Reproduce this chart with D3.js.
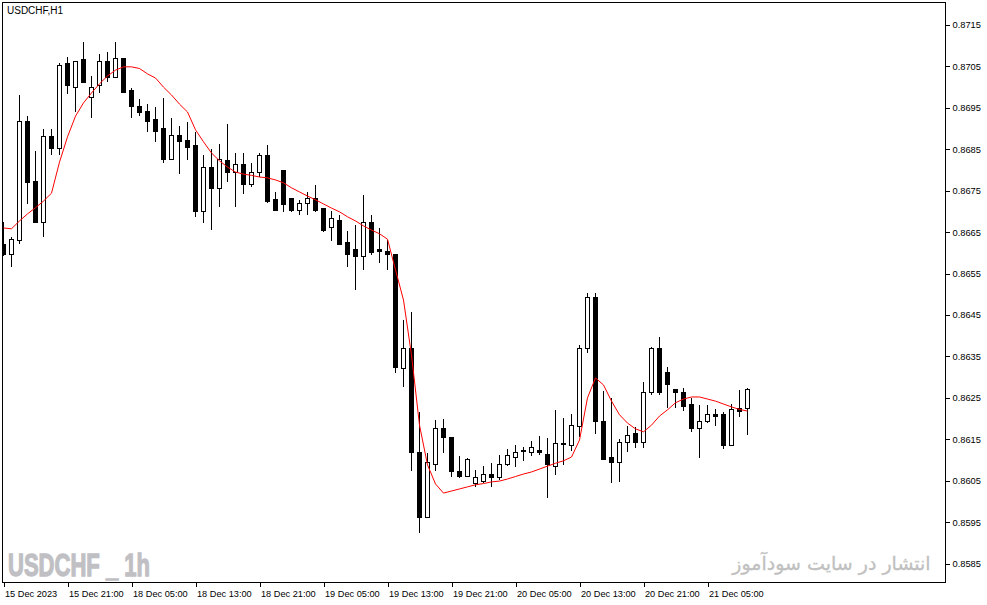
<!DOCTYPE html>
<html>
<head>
<meta charset="utf-8">
<script src="https://cdn.jsdelivr.net/npm/d3@7"></script>
<style>
  html, body { margin: 0; padding: 0; background: #fff; }
  svg { display: block; }
</style>
</head>
<body>
<div id="chart"></div>
<script>
// USDCHF H1 candles
const symbolTitle = 'USDCHF,H1';

const opens = [
  0.86619, 0.86597, 0.86629, 0.86918, 0.86771, 0.86674, 0.86880, 0.86853, 0.87056, 0.86998,
  0.87066, 0.86974, 0.87003, 0.87063, 0.87024, 0.87068, 0.86991, 0.86954, 0.86940, 0.86921,
  0.86899, 0.86826, 0.86884, 0.86870, 0.86858, 0.86699, 0.86807, 0.86756, 0.86824, 0.86795,
  0.86814, 0.86766, 0.86795, 0.86834, 0.86728, 0.86798, 0.86730, 0.86703, 0.86718, 0.86730,
  0.86706, 0.86660, 0.86679, 0.86624, 0.86607, 0.86590, 0.86674, 0.86607, 0.86602, 0.86595,
  0.86320, 0.86368, 0.86119, 0.85960, 0.86090, 0.86177, 0.86155, 0.86073, 0.86061, 0.86044,
  0.86047, 0.86064, 0.86057, 0.86090, 0.86107, 0.86122, 0.86119, 0.86124, 0.86114, 0.86085,
  0.86139, 0.86134, 0.86180, 0.86370, 0.86491, 0.86194, 0.86105, 0.86095, 0.86141, 0.86163,
  0.86143, 0.86262, 0.86370, 0.86310, 0.86271, 0.86262, 0.86233, 0.86177, 0.86194, 0.86209,
  0.86209, 0.86136, 0.86223, 0.86225
];

const highs = [
  0.86674, 0.86638, 0.86981, 0.86930, 0.86846, 0.86899, 0.86899, 0.87058, 0.87073, 0.87063,
  0.87109, 0.87027, 0.87080, 0.87085, 0.87109, 0.87068, 0.86998, 0.86971, 0.86959, 0.86952,
  0.86974, 0.86926, 0.86906, 0.86916, 0.86892, 0.86836, 0.86851, 0.86863, 0.86911, 0.86841,
  0.86841, 0.86817, 0.86841, 0.86860, 0.86747, 0.86800, 0.86730, 0.86728, 0.86747, 0.86764,
  0.86706, 0.86701, 0.86691, 0.86653, 0.86667, 0.86740, 0.86691, 0.86660, 0.86631, 0.86595,
  0.86438, 0.86457, 0.86216, 0.86117, 0.86197, 0.86199, 0.86155, 0.86110, 0.86105, 0.86076,
  0.86085, 0.86093, 0.86112, 0.86127, 0.86136, 0.86131, 0.86146, 0.86158, 0.86153, 0.86221,
  0.86201, 0.86211, 0.86378, 0.86503, 0.86503, 0.86267, 0.86250, 0.86151, 0.86182, 0.86180,
  0.86288, 0.86373, 0.86397, 0.86324, 0.86271, 0.86274, 0.86250, 0.86233, 0.86233, 0.86223,
  0.86216, 0.86235, 0.86269, 0.86274
];

const lows = [
  0.86592, 0.86566, 0.86621, 0.86718, 0.86672, 0.86638, 0.86836, 0.86836, 0.86983, 0.86940,
  0.87012, 0.86926, 0.86986, 0.87012, 0.87024, 0.86986, 0.86926, 0.86930, 0.86892, 0.86868,
  0.86817, 0.86824, 0.86790, 0.86824, 0.86686, 0.86672, 0.86655, 0.86711, 0.86771, 0.86711,
  0.86742, 0.86759, 0.86783, 0.86720, 0.86701, 0.86699, 0.86699, 0.86691, 0.86691, 0.86699,
  0.86650, 0.86629, 0.86621, 0.86566, 0.86510, 0.86559, 0.86595, 0.86575, 0.86559, 0.86310,
  0.86276, 0.86073, 0.85924, 0.85960, 0.86073, 0.86117, 0.86059, 0.86057, 0.86059, 0.86035,
  0.86044, 0.86035, 0.86052, 0.86085, 0.86083, 0.86098, 0.86110, 0.86112, 0.86008, 0.86064,
  0.86088, 0.86122, 0.86155, 0.86358, 0.86163, 0.86100, 0.86044, 0.86047, 0.86119, 0.86129,
  0.86129, 0.86257, 0.86257, 0.86225, 0.86225, 0.86218, 0.86168, 0.86105, 0.86189, 0.86182,
  0.86127, 0.86134, 0.86204, 0.86160
];

const closes = [
  0.86597, 0.86631, 0.86918, 0.86769, 0.86674, 0.86880, 0.86853, 0.87053, 0.87003, 0.87063,
  0.87012, 0.87000, 0.87063, 0.87024, 0.87068, 0.86988, 0.86954, 0.86938, 0.86916, 0.86892,
  0.86826, 0.86884, 0.86868, 0.86855, 0.86699, 0.86805, 0.86756, 0.86826, 0.86795, 0.86814,
  0.86766, 0.86793, 0.86834, 0.86723, 0.86703, 0.86716, 0.86703, 0.86718, 0.86730, 0.86703,
  0.86655, 0.86682, 0.86621, 0.86597, 0.86590, 0.86674, 0.86600, 0.86602, 0.86595, 0.86322,
  0.86368, 0.86119, 0.85960, 0.86093, 0.86177, 0.86153, 0.86071, 0.86059, 0.86100, 0.86057,
  0.86064, 0.86057, 0.86088, 0.86110, 0.86119, 0.86120, 0.86129, 0.86117, 0.86088, 0.86139,
  0.86138, 0.86182, 0.86368, 0.86491, 0.86192, 0.86100, 0.86095, 0.86143, 0.86160, 0.86143,
  0.86262, 0.86370, 0.86262, 0.86283, 0.86262, 0.86230, 0.86177, 0.86194, 0.86209, 0.86206,
  0.86134, 0.86221, 0.86216, 0.86271
];

// red smoothing line
const maLine = [
  0.86660, 0.86658, 0.86677, 0.86694, 0.86709, 0.86725, 0.86744, 0.86819, 0.86880, 0.86930,
  0.86962, 0.86986, 0.87008, 0.87027, 0.87041, 0.87049, 0.87049, 0.87045, 0.87032, 0.87022,
  0.87000, 0.86981, 0.86959, 0.86940, 0.86897, 0.86868, 0.86841, 0.86822, 0.86807, 0.86795,
  0.86790, 0.86787, 0.86783, 0.86781, 0.86776, 0.86769, 0.86757, 0.86747, 0.86737, 0.86728,
  0.86718, 0.86708, 0.86699, 0.86687, 0.86677, 0.86665, 0.86655, 0.86646, 0.86633, 0.86559,
  0.86486, 0.86353, 0.86184, 0.86088, 0.86042, 0.86020, 0.86025, 0.86030, 0.86035, 0.86040,
  0.86043, 0.86047, 0.86049, 0.86054, 0.86060, 0.86066, 0.86071, 0.86078, 0.86085, 0.86092,
  0.86098, 0.86107, 0.86148, 0.86250, 0.86298, 0.86281, 0.86242, 0.86209, 0.86189, 0.86175,
  0.86168, 0.86184, 0.86206, 0.86221, 0.86238, 0.86247, 0.86252, 0.86252, 0.86247, 0.86242,
  0.86235, 0.86228, 0.86222, 0.86218
];

const timeLabels = [
  '15 Dec 2023', '15 Dec 21:00', '18 Dec 05:00', '18 Dec 13:00', '18 Dec 21:00', '19 Dec 05:00',
  '19 Dec 13:00', '19 Dec 21:00', '20 Dec 05:00', '20 Dec 13:00', '20 Dec 21:00', '21 Dec 05:00'
];
const timeLabelBars = [0, 8, 16, 24, 32, 40, 48, 56, 64, 72, 80, 88];

const priceTicks = [
  0.8585, 0.8595, 0.8605, 0.8615, 0.8625, 0.8635, 0.8645,
  0.8655, 0.8665, 0.8675, 0.8685, 0.8695, 0.8705, 0.8715
];

const width = 987;
const height = 605;
const frame = { left: 2.5, top: 2.5, right: 945.5, bottom: 582.5 };
const axisFont = '"Liberation Sans", Arial, sans-serif';

const bars = opens.map((o, i) => ({
  i, open: o, high: highs[i], low: lows[i], close: closes[i],
}));

const x = d3.scaleLinear().domain([0, 93]).range([3.5, 747.5]);
const y = d3.scaleLinear().domain([0.8585, 0.8715]).range([563.5, 25]);

const svg = d3
  .select('#chart')
  .append('svg')
  .attr('width', width)
  .attr('height', height);

svg.append('rect')
  .attr('width', width)
  .attr('height', height)
  .attr('fill', '#fff');

svg.append('clipPath')
  .attr('id', 'plot-clip')
  .append('rect')
  .attr('x', frame.left)
  .attr('y', frame.top)
  .attr('width', frame.right - frame.left)
  .attr('height', frame.bottom - frame.top);

// watermarks (behind the candles)
svg.append('text')
  .attr('x', 8)
  .attr('y', 576)
  .attr('font-family', '"Liberation Sans", Arial, sans-serif')
  .attr('font-weight', 'bold')
  .attr('font-size', 31)
  .attr('textLength', 142)
  .attr('lengthAdjust', 'spacingAndGlyphs')
  .attr('fill', '#c0c0c4')
  .attr('stroke', '#c0c0c4')
  .attr('stroke-width', 1.3)
  .text('USDCHF _ 1h');

svg.append('text')
  .attr('x', 831.5)
  .attr('y', 570)
  .attr('text-anchor', 'middle')
  .attr('font-family', '"DejaVu Sans", sans-serif')
  .attr('font-size', 19)
  .attr('fill', '#c0c0c0')
  .attr('stroke', '#c0c0c0')
  .attr('stroke-width', 0.3)
  .text('انتشار در سایت سودآموز');

const plot = svg.append('g').attr('clip-path', 'url(#plot-clip)');

// candles
const candle = plot
  .selectAll('g.candle')
  .data(bars)
  .join('g')
  .attr('class', 'candle')
  .attr('shape-rendering', 'crispEdges');

candle
  .append('line')
  .attr('x1', (d) => x(d.i))
  .attr('x2', (d) => x(d.i))
  .attr('y1', (d) => y(d.high))
  .attr('y2', (d) => y(d.low))
  .attr('stroke', '#000')
  .attr('stroke-width', 1);

candle
  .append('rect')
  .attr('x', (d) => x(d.i) - 2)
  .attr('width', 4)
  .attr('y', (d) => y(Math.max(d.open, d.close)))
  .attr('height', (d) => Math.abs(y(d.open) - y(d.close)))
  .attr('fill', (d) => (d.close >= d.open ? '#fff' : '#000'))
  .attr('stroke', '#000')
  .attr('stroke-width', 1);

// red line on top
plot
  .append('path')
  .datum(maLine)
  .attr('fill', 'none')
  .attr('stroke', '#ff0000')
  .attr('stroke-width', 1)
  .attr('d', d3.line().x((d, i) => x(i)).y((d) => y(d)));

// frame
svg.append('rect')
  .attr('x', frame.left)
  .attr('y', frame.top)
  .attr('width', frame.right - frame.left)
  .attr('height', frame.bottom - frame.top)
  .attr('fill', 'none')
  .attr('stroke', '#000')
  .attr('stroke-width', 1)
  .attr('shape-rendering', 'crispEdges');

// price axis on the right
const yAxis = svg
  .append('g')
  .attr('transform', `translate(${frame.right},0)`)
  .call(
    d3.axisRight(y)
      .tickValues(priceTicks)
      .tickFormat(d3.format('.4f'))
      .tickSize(4)
      .tickPadding(3),
  );
yAxis.select('.domain').remove();
yAxis.selectAll('line').attr('shape-rendering', 'crispEdges');
yAxis.selectAll('text')
  .attr('font-family', axisFont)
  .attr('font-size', 9.3)
  .attr('fill', '#000');

// time axis at the bottom
const xAxis = svg
  .append('g')
  .attr('transform', `translate(0,${frame.bottom})`)
  .call(
    d3.axisBottom(x)
      .tickValues(timeLabelBars)
      .tickFormat((d, i) => timeLabels[i])
      .tickSize(4),
  );
xAxis.select('.domain').remove();
xAxis.selectAll('line').attr('shape-rendering', 'crispEdges');
xAxis.selectAll('text')
  .attr('text-anchor', 'start')
  .attr('x', 1)
  .attr('y', 14.5)
  .attr('dy', null)
  .attr('font-family', axisFont)
  .attr('font-size', 9.2)
  .attr('fill', '#000');

// symbol caption
svg.append('text')
  .attr('x', 7)
  .attr('y', 14)
  .attr('font-family', axisFont)
  .attr('font-size', 10)
  .attr('fill', '#000')
  .text(symbolTitle);
</script>
</body>
</html>
